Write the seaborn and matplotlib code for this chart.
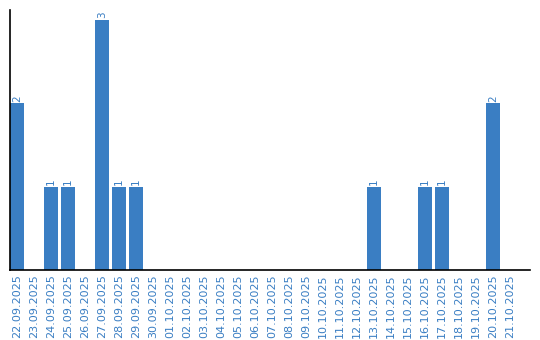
import matplotlib
matplotlib.use("Agg")
import matplotlib.pyplot as plt
import seaborn as sns
import pandas as pd

dates = ["22.09.2025", "23.09.2025", "24.09.2025", "25.09.2025", "26.09.2025",
         "27.09.2025", "28.09.2025", "29.09.2025", "30.09.2025", "01.10.2025",
         "02.10.2025", "03.10.2025", "04.10.2025", "05.10.2025", "06.10.2025",
         "07.10.2025", "08.10.2025", "09.10.2025", "10.10.2025", "11.10.2025",
         "12.10.2025", "13.10.2025", "14.10.2025", "15.10.2025", "16.10.2025",
         "17.10.2025", "18.10.2025", "19.10.2025", "20.10.2025", "21.10.2025"]
counts = [2, 0, 1, 1, 0, 3, 1, 1, 0, 0,
          0, 0, 0, 0, 0, 0, 0, 0, 0, 0,
          0, 1, 0, 0, 1, 1, 0, 0, 2, 0]

BLUE = "#3a7ec3"
df = pd.DataFrame({"date": dates, "count": counts})

sns.set_style("white")
fig = plt.figure(figsize=(5.4, 3.4), dpi=100)
ax = fig.add_axes([10/540, 70/340, 520/540, 260/340])
sns.barplot(data=df, x="date", y="count", color=BLUE, width=0.82,
            saturation=1, linewidth=0, ax=ax)
ax.set_xlim(-0.41, 30.18)
ax.set_ylim(0, 3.12)
ax.set_xlabel("")
ax.set_ylabel("")
ax.set_yticks([])
ax.tick_params(axis="x", length=0, pad=3, labelrotation=90,
               labelsize=8, labelcolor=BLUE)
for s in ["top", "right"]:
    ax.spines[s].set_visible(False)
for s in ["left", "bottom"]:
    ax.spines[s].set_color("black")
    ax.spines[s].set_linewidth(1.2)

for i, v in enumerate(counts):
    if v > 0:
        ax.text(i, v + 0.02, str(v), rotation=90, ha="center", va="bottom",
                fontsize=7.5, color=BLUE)

fig.savefig("out.png", dpi=100)
